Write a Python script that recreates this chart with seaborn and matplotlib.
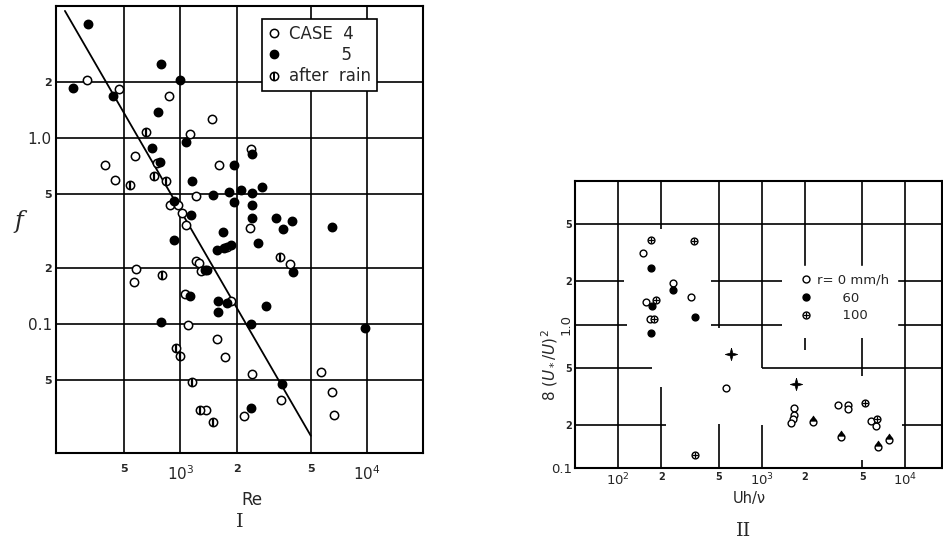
import numpy as np
import pandas as pd
import seaborn as sns
import matplotlib
matplotlib.use("Agg")
from matplotlib import pyplot as plt
from matplotlib.lines import Line2D
from matplotlib.path import Path
from matplotlib.ticker import NullLocator

# ---------------- panel I : friction factor f vs Re ----------------
case4_re = [315, 466, 869, 1472, 1122, 570, 395, 750, 448, 1204, 1615, 2378,
            884, 967, 1021, 1073, 2350, 1782, 580, 566, 1204, 1254, 1281, 1064,
            1874, 1095, 1562, 1725, 2427, 1379, 2188, 3451, 5665, 6460, 6620, 3872]
case4_f = [2.05, 1.83, 1.68, 1.26, 1.05, 0.80, 0.71, 0.73, 0.594, 0.483, 0.71, 0.87,
           0.436, 0.436, 0.394, 0.340, 0.327, 0.258, 0.197, 0.167, 0.216, 0.213, 0.193, 0.145,
           0.133, 0.098, 0.0827, 0.0659, 0.0539, 0.0342, 0.032, 0.039, 0.0547, 0.043, 0.0324, 0.209]

case5_re = [321, 791, 265, 1000, 437, 755, 1077, 705, 780, 1156, 1935, 2427,
            1493, 1820, 2104, 2427, 2748, 1935, 2427, 2427, 3243, 3988, 3566, 6460,
            1693, 920, 2606, 1575, 1710, 1857, 1346, 1392, 4020, 1122, 1587, 1766,
            1587, 2864, 787, 2399, 9750, 3525, 2378, 1142, 920]
case5_f = [4.10, 2.49, 1.85, 2.03, 1.67, 1.37, 0.948, 0.881, 0.740, 0.582, 0.71, 0.82,
           0.49, 0.511, 0.521, 0.505, 0.541, 0.451, 0.436, 0.369, 0.37, 0.358, 0.323, 0.330,
           0.312, 0.282, 0.272, 0.25, 0.255, 0.264, 0.194, 0.195, 0.19, 0.141, 0.133, 0.130,
           0.116, 0.125, 0.1016, 0.1, 0.0948, 0.0476, 0.0352, 0.385, 0.455]

rain_re = [656, 533, 718, 834, 798, 948, 1000, 1156, 1270, 1500, 3420]
rain_f = [1.07, 0.554, 0.62, 0.582, 0.183, 0.074, 0.0667, 0.0484, 0.0342, 0.0295, 0.228]

fit_re = [240, 5000]
fit_f = [4.8, 0.025]

re_ticks = [500, 1000, 2000, 5000, 10000]
re_labels = ["5", r"$10^3$", "2", "5", r"$10^4$"]
f_ticks = [0.05, 0.1, 0.2, 0.5, 1.0, 2.0]
f_labels = ["5", "0.1", "2", "5", "1.0", "2"]

# ---------------- panel II : 8(U*/U)^2 vs Uh/nu ----------------
r0_uh = [149, 241, 320, 156, 167, 565, 1687, 1667, 1641, 1606, 3388, 3980, 3980, 5717, 6220]
r0_cf = [3.15, 1.94, 1.55, 1.43, 1.10, 0.363, 0.26, 0.233, 0.218, 0.206, 0.274, 0.274, 0.256, 0.213, 0.196]

r60_uh = [170, 240, 173, 341, 170]
r60_cf = [2.48, 1.74, 1.355, 1.12, 0.875]

r100_uh = [170, 337, 183, 176, 343, 5250, 6350]
r100_cf = [3.89, 3.79, 1.48, 1.10, 0.123, 0.286, 0.221]

star_uh = [606, 1730]
star_cf = [0.626, 0.388]

arrow_uh = [2260, 3572, 6400, 7710]
arrow_cf = [0.21, 0.165, 0.141, 0.156]

uh_ticks = [100, 200, 500, 1000, 2000, 5000, 10000]
uh_labels = [r"$10^2$", "2", "5", r"$10^3$", "2", "5", r"$10^4$"]
cf_ticks = [0.1, 0.2, 0.5, 1.0, 2.0, 5.0]
cf_labels = ["0.1", "2", "5", "1.0", "2", "5"]

# the hand-drawn grid of panel II is broken around the data
h_grid = {5.0: [(50, 18000)],
          2.0: [(50, 110), (442, 1380), (7280, 18000)],
          1.0: [(50, 115), (442, 1380), (6800, 18000)],
          0.5: [(50, 172), (1000, 18000)],
          0.2: [(50, 215), (9400, 18000)]}
v_grid = {100: [(0.1, 10)],
          200: [(4.64, 10), (0.1, 0.365)],
          500: [(0.95, 10), (0.1, 0.202)],
          1000: [(0.5, 10), (0.1, 0.2)],
          2000: [(2.49, 10), (0.66, 0.81)],
          5000: [(2.57, 10), (0.44, 0.8), (0.1, 0.114)],
          10000: [(0.1, 10)]}

sns.set_style("white")
plt.rcParams["font.family"] = ["DejaVu Sans"]

# custom marker shapes
star_path = Path([(0, 1), (0.22, 0.22), (1, 0), (0.22, -0.22), (0, -1),
                  (-0.22, -0.22), (-1, 0), (-0.22, 0.22), (0, 1)])
cap_path = Path([(-0.8, 0.3), (0.8, 0.3), (0, 1.5), (-0.8, 0.3)])


def style_ticks(ax, big, small):
    for lab in ax.get_xticklabels() + ax.get_yticklabels():
        if lab.get_text() in ("2", "5"):
            lab.set_fontsize(small)
            lab.set_fontweight("bold")
        else:
            lab.set_fontsize(big)


def setup_log_axes(ax, xlim, ylim, xt, xl, yt, yl):
    ax.set_xscale("log")
    ax.set_yscale("log")
    ax.set_xlim(*xlim)
    ax.set_ylim(*ylim)
    ax.set_xticks(xt, xl)
    ax.set_yticks(yt, yl)
    ax.xaxis.set_minor_locator(NullLocator())
    ax.yaxis.set_minor_locator(NullLocator())
    for s in ax.spines.values():
        s.set_color("black")
        s.set_linewidth(1.5)


fig = plt.figure(figsize=(9.43, 5.41), dpi=100)
ax1 = fig.add_axes([0.0594, 0.1627, 0.3892, 0.8262])
ax2 = fig.add_axes([0.6098, 0.1349, 0.3892, 0.5305])

# ---- panel I ----
setup_log_axes(ax1, (215, 20000), (0.0202, 5.1), re_ticks, re_labels, f_ticks, f_labels)
ax1.set_axisbelow(True)
ax1.grid(True, which="major", color="black", linewidth=1.2)
ax1.tick_params(length=0)
ax1.tick_params(axis="x", pad=8)
ax1.tick_params(axis="y", pad=3)
style_ticks(ax1, 11, 8)

sns.lineplot(x=fit_re, y=fit_f, ax=ax1, color="black", linewidth=1.3, zorder=2)
ms1 = 36
sns.scatterplot(x=case4_re, y=case4_f, ax=ax1, marker="o", s=ms1, color="white",
                edgecolor="black", linewidth=1.1, zorder=3)
sns.scatterplot(x=case5_re, y=case5_f, ax=ax1, marker="o", s=ms1, color="black",
                edgecolor="black", linewidth=1.1, zorder=4)
sns.scatterplot(x=rain_re, y=rain_f, ax=ax1, marker="o", s=ms1, color="white",
                edgecolor="black", linewidth=1.1, zorder=4)
sns.scatterplot(x=rain_re, y=rain_f, ax=ax1, marker="|", s=ms1, color="black",
                linewidth=1.6, zorder=5)

h_open = Line2D([], [], ls="", marker="o", ms=6, mfc="white", mec="black", mew=1.1)
h_fill = Line2D([], [], ls="", marker="o", ms=6, mfc="black", mec="black")
h_bar = Line2D([], [], ls="", marker="|", ms=6, color="black", mew=1.4)
leg1 = ax1.legend([h_open, h_fill, (h_open, h_bar)],
                  ["CASE  4", "          5", "after  rain"],
                  loc="upper right", bbox_to_anchor=(0.875, 0.971),
                  fontsize=12, frameon=True, fancybox=False, framealpha=1,
                  edgecolor="black", handlelength=0.8, handletextpad=0.5,
                  borderpad=0.35, labelspacing=0.2, borderaxespad=0)
leg1.get_frame().set_linewidth(1.2)

fig.text(0.015, 0.59, "f", fontsize=17, style="italic", family="DejaVu Serif",
         ha="left", va="center")
fig.text(0.267, 0.076, "Re", fontsize=12, ha="center", va="center")
fig.text(0.2545, 0.035, "I", fontsize=14, family="DejaVu Serif", ha="center", va="center")

# ---- panel II ----
setup_log_axes(ax2, (50, 18000), (0.1, 10), uh_ticks, uh_labels, cf_ticks, cf_labels)
ax2.tick_params(length=0)
ax2.tick_params(axis="x", pad=3)
ax2.tick_params(axis="y", pad=2)
style_ticks(ax2, 9.5, 7)
for lab in ax2.get_yticklabels():
    if lab.get_text() == "1.0":
        lab.set_rotation(90)
        lab.set_va("center")

for yv, spans in h_grid.items():
    for a, b in spans:
        ax2.hlines(yv, a, b, color="black", linewidth=1.2, zorder=1)
for xv, spans in v_grid.items():
    for a, b in spans:
        ax2.vlines(xv, a, b, color="black", linewidth=1.2, zorder=1)

ms2 = 24
sns.scatterplot(x=r0_uh, y=r0_cf, ax=ax2, marker="o", s=ms2, color="white",
                edgecolor="black", linewidth=1.0, zorder=3)
sns.scatterplot(x=r60_uh, y=r60_cf, ax=ax2, marker="o", s=ms2, color="black",
                edgecolor="black", linewidth=1.0, zorder=4)
sns.scatterplot(x=r100_uh, y=r100_cf, ax=ax2, marker="o", s=ms2, color="white",
                edgecolor="black", linewidth=1.0, zorder=4)
sns.scatterplot(x=r100_uh, y=r100_cf, ax=ax2, marker="+", s=ms2 * 0.7, color="black",
                linewidth=0.9, zorder=5)
sns.scatterplot(x=star_uh, y=star_cf, ax=ax2, marker=star_path, s=80, color="black",
                edgecolor="black", linewidth=0.5, zorder=4)
sns.scatterplot(x=arrow_uh, y=arrow_cf, ax=ax2, marker="o", s=ms2, color="white",
                edgecolor="black", linewidth=1.0, zorder=3)
sns.scatterplot(x=arrow_uh, y=arrow_cf, ax=ax2, marker=cap_path, s=ms2 * 3.6, color="black",
                edgecolor="black", linewidth=0.5, zorder=4)

g_open = Line2D([], [], ls="", marker="o", ms=5, mfc="white", mec="black", mew=1.0)
g_fill = Line2D([], [], ls="", marker="o", ms=5, mfc="black", mec="black")
g_plus = Line2D([], [], ls="", marker="+", ms=4, color="black", mew=0.9)
leg2 = ax2.legend([g_open, g_fill, (g_open, g_plus)],
                  ["r= 0 mm/h", "      60", "      100"],
                  loc="upper left", bbox_to_anchor=(0.594, 0.704),
                  fontsize=9.5, frameon=True, fancybox=False, framealpha=1,
                  edgecolor="white", handlelength=0.7, handletextpad=0.5,
                  borderpad=0.6, labelspacing=0.35, borderaxespad=0)

fig.text(0.583, 0.325, r"8 $(U_*/U)^2$", fontsize=11, rotation=90, ha="center", va="center")
fig.text(0.795, 0.078, "Uh/\u03bd", fontsize=10.5, ha="center", va="center")
fig.text(0.788, 0.0185, "II", fontsize=14, family="DejaVu Serif", ha="center", va="center")

fig.savefig("out.png", dpi=100)
